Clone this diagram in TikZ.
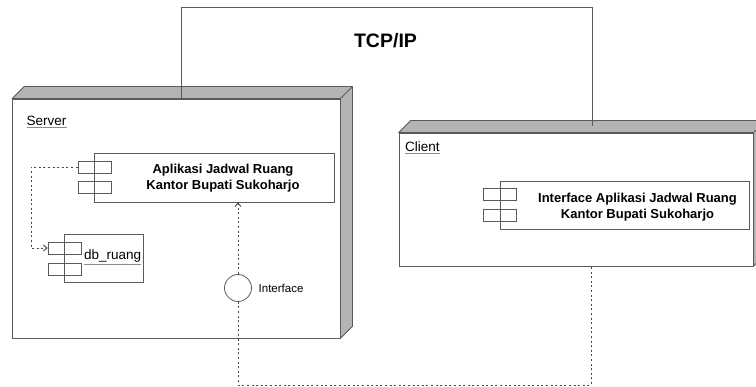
\documentclass[tikz,border=0pt]{standalone}
\usepackage{fontspec}
\setmainfont{Liberation Sans}
\usetikzlibrary{arrows.meta,calc}
\definecolor{edge}{RGB}{90,90,90}
\definecolor{face}{RGB}{180,180,180}
\definecolor{wire}{RGB}{70,70,70}

\begin{document}
\begin{tikzpicture}[x=1pt,y=-1pt,
  frontface/.style={draw=edge, line width=0.8pt, fill=white, inner sep=0pt},
  compbox/.style={draw=edge, line width=0.7pt, inner sep=0pt},
  tab/.style={draw=edge, line width=0.7pt, inner sep=0pt, minimum width=33pt, minimum height=12pt},
  bigtext/.style={font=\fontsize{13}{16}\selectfont\bfseries, align=center, inner sep=0pt},
  plain/.style={font=\fontsize{13.5}{16}\selectfont, inner sep=0pt, anchor=west},
  link/.style={draw=wire, line width=0.9pt, dash pattern=on 2pt off 2.6pt},
  net/.style={draw=edge, line width=0.8pt},
  tip/.style={-{Straight Barb[length=3.5pt,width=6pt]}}
]
\useasboundingbox (0,0) rectangle (756,387);
\clip (0,0) rectangle (756,387);

% ---- 3D nodes: front faces
\node[frontface, minimum width=327.5pt, minimum height=239pt] (server) at (176.25,218.5) {};
\node[frontface, minimum width=354pt, minimum height=133pt] (client) at (576,199.5) {};

% top and side faces of each node
\foreach \n in {server,client}{
  \filldraw[fill=face, draw=edge, line width=0.8pt, line join=round]
    (\n.north west) -- ++(12,-12) -- ($(\n.north east)+(12,-12)$)
    -- ($(\n.south east)+(12,-12)$) -- (\n.south east) -- (\n.north east) -- cycle;
  \draw[edge, line width=0.8pt] (\n.north east) -- ++(12,-12);
}

% node labels
\node[plain] (srvlbl) at (26.5,120.5) {Server};
\draw[edge!70, line width=0.8pt] ([yshift=-2pt]srvlbl.south west) -- ([yshift=-2pt]srvlbl.south east);
\node[plain] (clilbl) at (405,146.5) {Client};
\draw[edge!70, line width=0.8pt] ([yshift=-2pt]clilbl.south west) -- ([yshift=-2pt]clilbl.south east);

% ---- components in the server
\node[compbox, minimum width=240pt, minimum height=49pt] (app) at (214,177.5) {};
\node[tab] (appA) at (94.5,167) {};
\node[tab] (appB) at (94.5,187.5) {};
\node[bigtext] (apptxt) at (223,178.5) {Aplikasi Jadwal Ruang\\Kantor Bupati Sukoharjo};

\node[compbox, minimum width=79pt, minimum height=48pt] (db) at (103.5,258) {};
\node[tab] (dbA) at (64.5,248) {};
\node[tab] (dbB) at (64.5,269) {};
\node[plain] (dbtxt) at (84,256.5) {db\_ruang};
\draw[edge!70, line width=0.8pt] ([yshift=-1.5pt]dbtxt.south west) -- ([yshift=-1.5pt]dbtxt.south east);

% interface lollipop
\node[circle, draw=edge, line width=0.8pt, minimum size=27pt, inner sep=0pt] (iface) at (238,288) {};
\node[font=\fontsize{11.5}{14}\selectfont, inner sep=0pt, anchor=west] (ifacelbl) at (258.5,288.5) {Interface};

% ---- component in the client
\node[compbox, minimum width=249pt, minimum height=48pt] (ui) at (624.5,205) {};
\node[tab] (uiA) at (500,194) {};
\node[tab] (uiB) at (500,215) {};
\node[bigtext] (uitxt) at (637.5,207.5) {Interface Aplikasi Jadwal Ruang\\Kantor Bupati Sukoharjo};

% ---- TCP/IP link between the nodes
\coordinate (netL) at (181,7);
\coordinate (netR) at (592,7);
\node[font=\fontsize{19.5}{22}\selectfont\bfseries, inner sep=0pt] (tcp) at (385.5,40.5) {TCP/IP};
\draw[net] (server.north -| netL) -- (netL) -- (netR) -- (592,126);

% ---- dependencies
\draw[link, tip] (appA.west) -- (31,167) -- (31,248) -- (dbA.west);
\draw[link, tip] (iface.north) -- (app.south -| iface.north);
\coordinate (busL) at (238,385);
\coordinate (busR) at (591,385);
\draw[link] (iface.south) -- (busL) -- (busR) -- (client.south -| busR);
\end{tikzpicture}
\end{document}
